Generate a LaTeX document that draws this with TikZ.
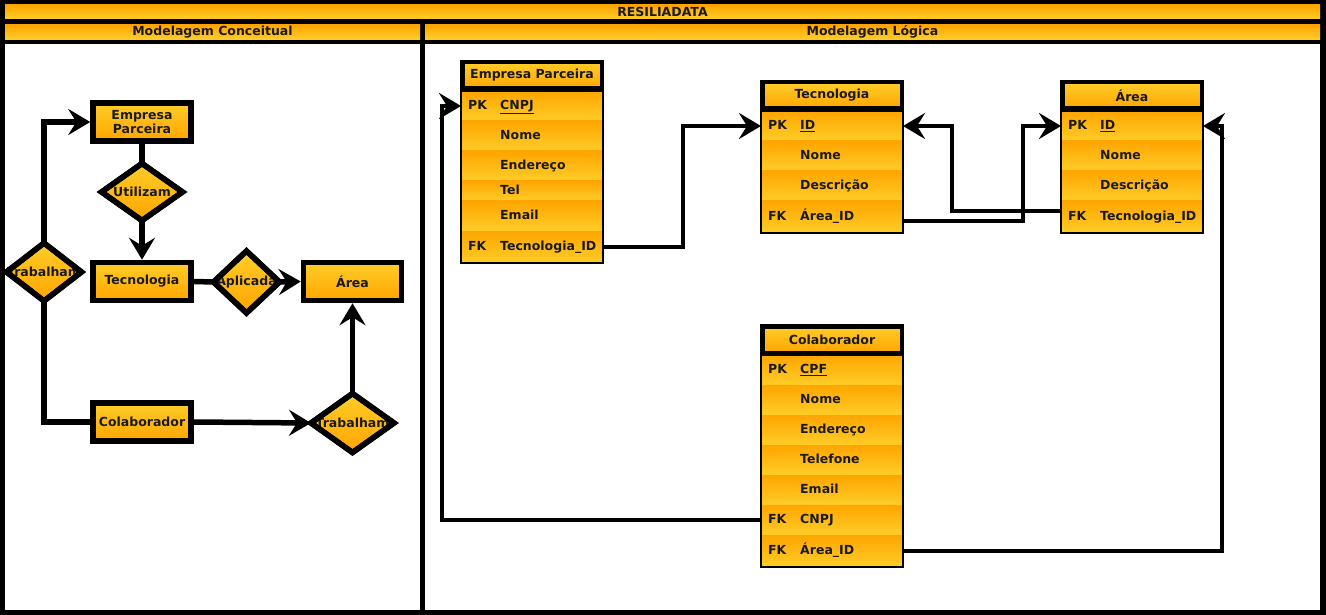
\documentclass[tikz,border=0pt]{standalone}
\usepackage{fontspec}
\setmainfont{DejaVu Sans}
\usetikzlibrary{arrows.meta,shapes.geometric}

\definecolor{amberlight}{HTML}{FFCD28}
\definecolor{amberdark}{HTML}{FFA500}
\definecolor{ink}{HTML}{1A1A1A}

\tikzset{
  txt/.style={font=\fontsize{12.5}{13.5}\selectfont\bfseries, text=ink},
  bar/.style={txt, rectangle, inner sep=0pt, outer sep=0pt, draw=none,
    top color=amberdark, bottom color=amberlight},
  pane/.style={rectangle, inner sep=0pt, outer sep=0pt, fill=white},
  entity/.style={txt, rectangle, draw=black, line width=5.5pt, align=center,
    top color=amberlight, bottom color=amberdark, inner sep=0pt,
    minimum width=98pt, minimum height=38pt},
  rel/.style={diamond, draw=black, line width=5.5pt, line join=miter,
    top color=amberlight, bottom color=amberdark, inner sep=0pt, outer sep=0pt},
  reltext/.style={txt, inner sep=0pt},
  outline/.style={draw=black, line width=5.5pt, line join=miter},
  plain/.style={draw=black, line width=5.5pt, line join=miter},
  conn/.style={plain, -{Stealth[length=22pt,width=26pt,inset=8pt]}},
  tabhead/.style={txt, rectangle, draw=black, line width=4.5pt, inner sep=0pt,
    top color=amberlight, bottom color=amberdark,
    minimum width=139.5pt, minimum height=26.5pt},
  dbrowbox/.style={rectangle, inner sep=0pt, outer sep=0pt, draw=none,
    top color=amberdark, bottom color=amberlight},
  celltxt/.style={txt, inner sep=0pt, text height=9.5pt, text depth=2.5pt},
  tabbody/.style={draw=black, line width=2pt},
  link/.style={draw=black, line width=4.5pt, line join=miter,
    -{Stealth[length=22pt,width=26pt,inset=8pt]}}
}

% one table row: name, left x, top y, height, key, field
\newcommand\dbrow[6]{%
  \node[dbrowbox, minimum width=142pt, minimum height=#4pt, anchor=north west]
    (#1) at (#2,#3) {};
  \node[celltxt, anchor=west] (#1-k) at ([xshift=7pt]#1.west) {#5};
  \node[celltxt, anchor=west] (#1-f) at ([xshift=39pt]#1.west) {#6};
}

\begin{document}
\begin{tikzpicture}[x=1pt, y=-1pt]
  \useasboundingbox (0,0) rectangle (1326,615);
  \fill[black] (0,0) rectangle (1326,615);

  % swimlane headers and panes
  \node[bar, minimum width=1315pt, minimum height=14pt] (title) at (662.5,12) {RESILIADATA};
  \node[bar, minimum width=415pt, minimum height=14.5pt] (hconc) at (212.5,32) {Modelagem Conceitual};
  \node[bar, minimum width=895pt, minimum height=14.5pt] (hlog) at (872.5,32) {Modelagem Lógica};
  \node[pane, minimum width=415pt, minimum height=566pt] (pconc) at (212.5,327) {};
  \node[pane, minimum width=895pt, minimum height=566pt] (plog) at (872.5,327) {};

  % ---------- conceptual model ----------
  \node[entity] (ep) at (142,122) {Empresa\\Parceira};
  \node[entity] (tec) at (142,281.5) {Tecnologia};
  \node[entity] (area) at (352.5,281.5) {Área};
  \node[entity] (co) at (142,422) {Colaborador};

  \node[rel, minimum width=81pt, minimum height=57pt] (u) at (142,192) {};
  \node[rel, minimum width=66pt, minimum height=62pt] (apl) at (246.5,282) {};
  \node[rel, minimum width=75pt, minimum height=58pt] (t1) at (44,272) {};
  \node[rel, minimum width=83pt, minimum height=59pt] (t2) at (352.5,423) {};

  \node[reltext] (u-t) at (u) {Utilizam};
  \node[reltext] (apl-t) at (apl) {Aplicada};
  \node[reltext] (t1-t) at (t1) {Trabalham};
  \node[reltext] (t2-t) at (t2) {Trabalham};

  \foreach \d in {u,apl,t1,t2}
    \draw[outline] (\d.north) -- (\d.east) -- (\d.south) -- (\d.west) -- cycle;

  \draw[conn] (t1.north) |- (ep.west);
  \draw[plain] (t1.south) |- (co.west);
  \draw[plain] (ep.south) -- (u.north);
  \draw[conn] (u.south) -- (tec.north);
  \draw[plain] (tec.east) -- (apl.west);
  \draw[conn] (apl.east) -- (area.west);
  \draw[conn] (co.east) -- (t2.west);
  \draw[conn] (t2.north) -- (area.south);

  % ---------- logical model ----------
  % Empresa Parceira
  \node[tabhead] (ep-h) at (532,75.5) {Empresa Parceira};
  \dbrow{ep1}{461}{91}{30}{PK}{\underline{CNPJ}}
  \dbrow{ep2}{461}{121}{30}{}{Nome}
  \dbrow{ep3}{461}{151}{30}{}{Endereço}
  \dbrow{ep4}{461}{181}{20}{}{Tel}
  \dbrow{ep5}{461}{201}{30}{}{Email}
  \dbrow{ep6}{461}{231}{32}{FK}{Tecnologia\_ID}
  \draw[tabbody] (ep1.north west) rectangle (ep6.south east);

  % Tecnologia
  \node[tabhead] (tc-h) at (832,95.5) {Tecnologia};
  \dbrow{tc1}{761}{111}{30}{PK}{\underline{ID}}
  \dbrow{tc2}{761}{141}{30}{}{Nome}
  \dbrow{tc3}{761}{171}{30}{}{Descrição}
  \dbrow{tc4}{761}{201}{32}{FK}{Área\_ID}
  \draw[tabbody] (tc1.north west) rectangle (tc4.south east);

  % Área
  \node[tabhead] (ar-h) at (1132,95.5) {Área};
  \dbrow{ar1}{1061}{111}{30}{PK}{\underline{ID}}
  \dbrow{ar2}{1061}{141}{30}{}{Nome}
  \dbrow{ar3}{1061}{171}{30}{}{Descrição}
  \dbrow{ar4}{1061}{201}{32}{FK}{Tecnologia\_ID}
  \draw[tabbody] (ar1.north west) rectangle (ar4.south east);

  % Colaborador
  \node[tabhead] (cl-h) at (832,339.5) {Colaborador};
  \dbrow{cl1}{761}{355}{30}{PK}{\underline{CPF}}
  \dbrow{cl2}{761}{385}{30}{}{Nome}
  \dbrow{cl3}{761}{415}{30}{}{Endereço}
  \dbrow{cl4}{761}{445}{30}{}{Telefone}
  \dbrow{cl5}{761}{475}{30}{}{Email}
  \dbrow{cl6}{761}{505}{30}{FK}{CNPJ}
  \dbrow{cl7}{761}{535}{32}{FK}{Área\_ID}
  \draw[tabbody] (cl1.north west) rectangle (cl7.south east);

  % foreign keys
  \draw[link] (ep6.east) -- ++(80,0) |- (tc1.west);
  \draw[link] ([yshift=-4pt]tc4.east) -- ++(120,0) |- (ar1.west);
  \draw[link] ([yshift=6pt]ar4.west) -- ++(-109,0) |- (tc1.east);
  \draw[link] (cl6.west) -- ++(-319,0) |- (ep1.west);
  \draw[link] (cl7.east) -- ++(319,0) |- (ar1.east);
\end{tikzpicture}
\end{document}
